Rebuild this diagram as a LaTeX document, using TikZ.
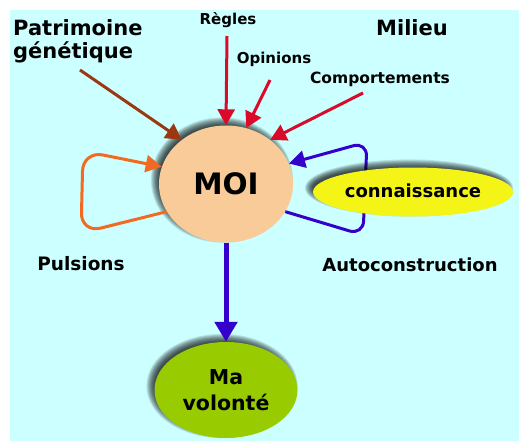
\documentclass[tikz,border=0pt]{standalone}
\usepackage{fontspec}
\setmainfont{DejaVu Sans}
\usetikzlibrary{arrows.meta,shapes.geometric}
\definecolor{bgcyan}{HTML}{CCFFFF}
\definecolor{peach}{HTML}{F9CB98}
\definecolor{brownarr}{HTML}{9A3812}
\definecolor{redarr}{HTML}{DA0B2A}
\definecolor{orangearr}{HTML}{F26A22}
\definecolor{bluearr}{HTML}{3300CC}
\definecolor{yellowfill}{HTML}{F4F417}
\definecolor{greenfill}{HTML}{99CC00}
\tikzset{
  blob/.style={ellipse, inner sep=0pt, font=\bfseries},
  lbl/.style={font=\bfseries, inner sep=0pt},
  arr/.style={line width=3pt, -{Triangle[length=16pt,width=17pt]}},
}
% soft shadow, shifted up and left: centre, x radius, y radius
\newcommand\softshade[3]{%
  \foreach \k in {0,...,9}{%
    \fill[black, opacity=0.11] ([xshift=-4pt,yshift=4pt]#1) ellipse ({#2-4+\k*0.9} and {#3-4+\k*0.9});
  }}
\begin{document}
\begin{tikzpicture}[x=1pt,y=-1pt]
\useasboundingbox (0,0) rectangle (519,441);
\fill[white] (0,0) rectangle (519,441);
\fill[bgcyan] (10,10) rectangle (519,441);

% centres of the three ellipses
\coordinate (cmoi) at (226,184);
\coordinate (ccon) at (413,192);
\coordinate (cvol) at (226,390);

% corner points of the two loops
\coordinate (bl1) at (363,235);
\coordinate (bl2) at (367,142);
\coordinate (ol1) at (81,233);
\coordinate (ol2) at (83,151);

% central node
\softshade{cmoi}{67}{58.5}
\node[blob, fill=peach, minimum width=134pt, minimum height=117pt, font=\bfseries\fontsize{29.5}{33}\selectfont] (moi) at (cmoi) {MOI};

% self-construction loop, passing behind the knowledge node
\draw[arr, bluearr, rounded corners=14pt] (moi.-25) -- (bl1) -- (bl2) -- (moi.18);

\softshade{ccon}{100}{24.5}
\node[blob, fill=yellowfill, minimum width=200pt, minimum height=49pt, font=\bfseries\fontsize{18}{21}\selectfont] (con) at (ccon) {\raisebox{3pt}{connaissance}};
\softshade{cvol}{71.5}{48}
\node[blob, fill=greenfill, minimum width=143pt, minimum height=96pt, align=center, font=\bfseries\fontsize{20.5}{26}\selectfont] (vol) at (cvol) {Ma\\volonté};

% labels
\node[lbl, anchor=west, align=left, font=\bfseries\fontsize{21}{23}\selectfont] (pat) at (13,41) {Patrimoine\\génétique};
\node[lbl, font=\bfseries\fontsize{15}{17}\selectfont] (reg) at (228,20) {Règles};
\node[lbl, font=\bfseries\fontsize{15}{17}\selectfont] (opi) at (274,59) {Opinions};
\node[lbl, font=\bfseries\fontsize{15.5}{17}\selectfont] (com) at (380,79) {Comportements};
\node[lbl, font=\bfseries\fontsize{21}{24}\selectfont] (mil) at (412,28) {Milieu};
\node[lbl, font=\bfseries\fontsize{18.5}{21}\selectfont] (pul) at (81,264) {Pulsions};
\node[lbl, font=\bfseries\fontsize{18}{21}\selectfont] (aut) at (410,265) {Autoconstruction};

% connectors
\coordinate (patend) at (80,70);
\coordinate (regend) at (227,36);
\coordinate (opiend) at (270,80);
\coordinate (comend) at (363,93);
\draw[arr, brownarr] (patend) -- (moi.135);
\draw[arr, redarr] (regend) -- (moi.north);
\draw[arr, redarr] (opiend) -- (moi.70);
\draw[arr, redarr] (comend) -- (moi.45);
\draw[arr, orangearr, rounded corners=20pt] (moi.205) -- (ol1) -- (ol2) -- (moi.165);
\draw[arr, bluearr, line width=5pt, -{Triangle[length=20pt,width=22pt]}] (moi.south) -- (vol.north);
\end{tikzpicture}
\end{document}
